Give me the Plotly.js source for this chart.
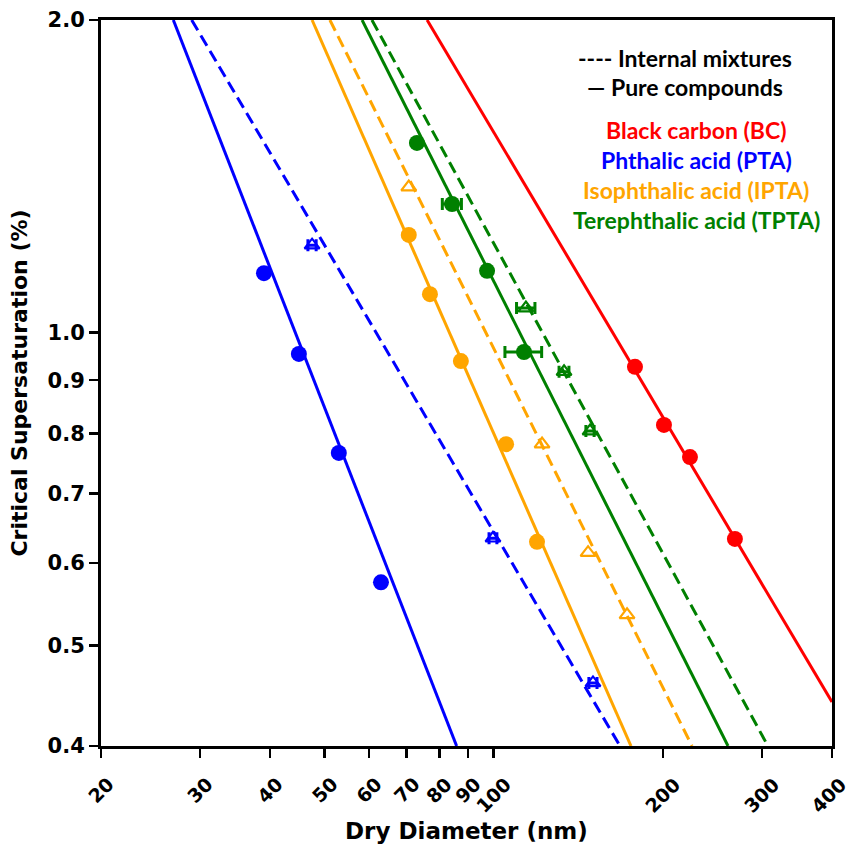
<!DOCTYPE html>
<html>
<head>
<meta charset="utf-8">
<script src="https://cdn.plot.ly/plotly-3.0.1.min.js"></script>
<style>html,body{margin:0;padding:0;background:#fff;}#chart{width:853px;height:846px;}</style>
</head>
<body>
<div id="chart"></div>
<script>
// ---- data (dry diameter in nm, critical supersaturation in %) ----
var ptaPureD = [39.0, 45.0, 53.0, 63.0];
var ptaPureS = [1.141, 0.954, 0.766, 0.575];
var ptaMixD = [47.5, 99.7, 150.2];
var ptaMixS = [1.214, 0.634, 0.460];
var ptaMixErr = [0.8, 1.6, 2.5];

var iptaPureD = [70.6, 77.0, 87.4, 105.2, 119.4];
var iptaPureS = [1.242, 1.089, 0.939, 0.781, 0.629];
var iptaMixD = [70.6, 121.9, 147.2, 172.7];
var iptaMixS = [1.381, 0.781, 0.614, 0.535];

var tptaPureD = [73.0, 84.3, 97.3, 113.2];
var tptaPureS = [1.523, 1.330, 1.147, 0.958];
var tptaPureErr = [0, 3.3, 0, 8.5];
var tptaMixD = [114.1, 133.4, 148.4];
var tptaMixS = [1.056, 0.917, 0.804];
var tptaMixErr = [4.3, 2.7, 2.5];

var bcPureD = [178.4, 200.9, 223.5, 268.7];
var bcPureS = [0.927, 0.815, 0.759, 0.633];

// fitted lines (end points)
var fitS = [2.0, 0.4];
var ptaPureFitD = [26.9, 85.9];
var ptaMixFitD = [29.0, 167.8];
var iptaPureFitD = [47.5, 175.5];
var iptaMixFitD = [51.1, 225.4];
var tptaPureFitD = [58.3, 261.2];
var tptaMixFitD = [60.7, 307.6];
var bcPureFitD = [76.1, 400];
var bcPureFitS = [2.0, 0.441];

var xTickVals = [20, 30, 40, 50, 60, 70, 80, 90, 100, 200, 300, 400];
var yTickVals = [0.4, 0.5, 0.6, 0.7, 0.8, 0.9, 1.0, 2.0];
var yTickText = ['0.4', '0.5', '0.6', '0.7', '0.8', '0.9', '1.0', '2.0'];

var legendLines = ['---- Internal mixtures', '\u2014 Pure compounds'];
var legendNames = ['Black carbon (BC)', 'Phthalic acid (PTA)', 'Isophthalic acid (IPTA)', 'Terephthalic acid (TPTA)'];

// ---- styles ----
var RED = '#ff0000', BLUE = '#0000ff', ORANGE = '#ffa500', GREEN = '#008000';
var legendColors = [RED, BLUE, ORANGE, GREEN];
var DASH = '12px,6px';

function fitLine(x, y, color, dashed) {
  return {x: x, y: y, mode: 'lines', type: 'scatter', hoverinfo: 'skip',
    line: {color: color, width: 3, dash: dashed ? DASH : 'solid'}};
}
function pts(x, y, color, open, err) {
  var t = {x: x, y: y, mode: 'markers', type: 'scatter',
    marker: open ? {symbol: 'triangle-up-open', size: 13, color: color, line: {color: color, width: 2.2}}
                 : {symbol: 'circle', size: 16, color: color, line: {width: 0}}};
  if (err) t.error_x = {type: 'data', array: err, visible: true, color: color, thickness: 3, width: 6};
  return t;
}

var traces = [
  fitLine(ptaPureFitD, fitS, BLUE, false),
  fitLine(ptaMixFitD, fitS, BLUE, true),
  fitLine(iptaPureFitD, fitS, ORANGE, false),
  fitLine(iptaMixFitD, fitS, ORANGE, true),
  fitLine(tptaPureFitD, fitS, GREEN, false),
  fitLine(tptaMixFitD, fitS, GREEN, true),
  fitLine(bcPureFitD, bcPureFitS, RED, false),
  pts(ptaPureD, ptaPureS, BLUE, false),
  pts(ptaMixD, ptaMixS, BLUE, true, ptaMixErr),
  pts(iptaPureD, iptaPureS, ORANGE, false),
  pts(iptaMixD, iptaMixS, ORANGE, true),
  pts(tptaPureD, tptaPureS, GREEN, false, tptaPureErr),
  pts(tptaMixD, tptaMixS, GREEN, true, tptaMixErr),
  pts(bcPureD, bcPureS, RED, false)
];

var TICKFONT = {family: 'DejaVu Sans', size: 21, color: '#000', weight: 'bold'};
var XTICKFONT = {family: 'DejaVu Sans', size: 19, color: '#000', weight: 'bold'};
var annotations = [];
xTickVals.forEach(function (v, i) {
  annotations.push({x: Math.log10(v), xref: 'x', y: -0.034, yref: 'paper', text: String(v),
    showarrow: false, textangle: -45, xanchor: 'center', yanchor: 'top', font: XTICKFONT,
    xshift: i === xTickVals.length - 1 ? -3 : 0});
});
annotations.push({x: 0.5, xref: 'paper', y: -0.117, yref: 'paper', text: 'Dry Diameter (nm)',
  showarrow: false, xanchor: 'center', yanchor: 'middle',
  font: {family: 'DejaVu Sans', size: 23, color: '#000', weight: 'bold'}});
var legY = [0.948, 0.908];
legendLines.forEach(function (t, i) {
  annotations.push({x: 0.799, xref: 'paper', y: legY[i], yref: 'paper', text: t, showarrow: false,
    xanchor: 'center', yanchor: 'middle', font: {family: 'Lato', size: 23, color: '#000', weight: 'bold'}});
});
var nameY = [0.848, 0.807, 0.766, 0.725];
legendNames.forEach(function (t, i) {
  annotations.push({x: 0.814, xref: 'paper', y: nameY[i], yref: 'paper', text: t, showarrow: false,
    xanchor: 'center', yanchor: 'middle', font: {family: 'Lato', size: 23, color: legendColors[i], weight: 'bold'}});
});

var layout = {
  width: 853, height: 846,
  margin: {l: 101, r: 21, t: 20, b: 100},
  paper_bgcolor: '#fff', plot_bgcolor: '#fff',
  showlegend: false,
  xaxis: {type: 'log', range: [Math.log10(20), Math.log10(400)], tickvals: xTickVals,
    showticklabels: false, ticks: 'outside', ticklen: 9, tickwidth: 2.5, tickcolor: '#000',
    showline: true, linewidth: 3, linecolor: '#000', mirror: true, showgrid: false, zeroline: false},
  yaxis: {type: 'log', range: [Math.log10(0.4), Math.log10(2.0)], tickvals: yTickVals, ticktext: yTickText,
    ticks: 'outside', ticklen: 9, tickwidth: 2.5, tickcolor: '#000', tickfont: TICKFONT,
    showline: true, linewidth: 3, linecolor: '#000', mirror: true, showgrid: false, zeroline: false,
    title: {text: 'Critical Supersaturation (%)', standoff: 14,
      font: {family: 'DejaVu Sans', size: 22, color: '#000', weight: 'bold'}}},
  annotations: annotations
};

Plotly.newPlot('chart', traces, layout, {displayModeBar: false, staticPlot: true});
</script>
</body>
</html>
